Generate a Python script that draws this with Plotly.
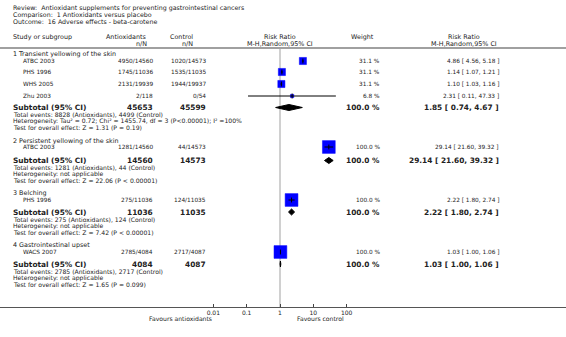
import math
import plotly.graph_objects as go

W, H = 566, 337

# ---------------- data ----------------
title_lines = [
    "Review:  Antioxidant supplements for preventing gastrointestinal cancers",
    "Comparison:  1 Antioxidants versus placebo",
    "Outcome:  16 Adverse effects - beta-carotene",
]
group_titles = [
    "1 Transient yellowing of the skin",
    "2 Persistent yellowing of the skin",
    "3 Belching",
    "4 Gastrointestinal upset",
]
study_names = ["ATBC 2003", "PHS 1996", "WHS 2005", "Zhu 2003", "ATBC 2003", "PHS 1996", "WACS 2007"]
study_group = [0, 0, 0, 0, 1, 2, 3]
events_a = [4950, 1745, 2131, 2, 1281, 275, 2785]
total_a = [14560, 11036, 19939, 118, 14560, 11036, 4084]
events_c = [1020, 1535, 1944, 0, 44, 124, 2717]
total_c = [14573, 11035, 19937, 54, 14573, 11035, 4087]
weight = [31.1, 31.1, 31.1, 6.8, 100.0, 100.0, 100.0]
rr = [4.86, 1.14, 1.10, 2.31, 29.14, 2.22, 1.03]
rr_lo = [4.56, 1.07, 1.03, 0.11, 21.60, 1.80, 1.00]
rr_hi = [5.18, 1.21, 1.16, 47.33, 39.32, 2.74, 1.06]

sub_total_a = [45653, 14560, 11036, 4084]
sub_total_c = [45599, 14573, 11035, 4087]
sub_weight = [100.0, 100.0, 100.0, 100.0]
sub_rr = [1.85, 29.14, 2.22, 1.03]
sub_lo = [0.74, 21.60, 1.80, 1.00]
sub_hi = [4.67, 39.32, 2.74, 1.06]
sub_events_a = [8828, 1281, 275, 2785]
sub_events_c = [4499, 44, 124, 2717]
heterogeneity = [
    "Tau² = 0.72; Chi² = 1455.74, df = 3 (P<0.00001); I² =100%",
    "not applicable",
    "not applicable",
    "not applicable",
]
overall_test = [
    "Z = 1.31 (P = 0.19)",
    "Z = 22.06 (P < 0.00001)",
    "Z = 7.42 (P < 0.00001)",
    "Z = 1.65 (P = 0.099)",
]
axis_ticks = [0.01, 0.1, 1, 10, 100]
axis_tick_labels = ["0.01", "0.1", "1", "10", "100"]

# ---------------- layout (pixels) ----------------
title_y = [8, 14.5, 21]
group_title_y = [54, 141, 193, 245]
study_y = [61, 72, 84, 96, 147, 200, 252]
sub_y = [107.5, 160.5, 212, 264]
AXIS_Y = 307
X_ONE = 280          # pixel x of RR = 1
DECADE = 33.35       # pixels per decade
FONT = "DejaVu Sans"
TXT = "#222222"
FS = 5.9
FSB = 7.4

def px(x):
    return x / W

ann = []

def text(x, y, s, anchor="left", size=FS, bold=False, color=TXT):
    if bold:
        s = "<b>" + s + "</b>"
    ann.append(dict(x=px(x), y=y, xref="paper", yref="y", text=s, showarrow=False,
                    xanchor=anchor, yanchor="middle", borderpad=0,
                    font=dict(family=FONT, size=size, color=color)))

for t, y in zip(title_lines, title_y):
    text(12, y, t, size=6.3)

# headers
text(12, 37, "Study or subgroup", size=6.4)
text(148, 37, "Antioxidants", anchor="right", size=6.4)
text(148, 43.5, "n/N", anchor="right", size=6.4)
text(194, 37, "Control", anchor="right", size=6.4)
text(194, 43.5, "n/N", anchor="right", size=6.4)
text(280, 37, "Risk Ratio", anchor="center", size=6.4)
text(280, 43.5, "M-H,Random,95% CI", anchor="center", size=6.4)
text(362, 37, "Weight", anchor="center", size=6.4)
text(464, 37, "Risk Ratio", anchor="center", size=6.4)
text(464, 43.5, "M-H,Random,95% CI", anchor="center", size=6.4)

for g, t in enumerate(group_titles):
    text(12, group_title_y[g], t, size=6.4)

for i, nm in enumerate(study_names):
    y = study_y[i]
    text(22, y, nm, size=5.8)
    text(154, y, f"{events_a[i]}/{total_a[i]}", anchor="right", size=5.8)
    text(207, y, f"{events_c[i]}/{total_c[i]}", anchor="right", size=5.8)
    text(381, y, f"{weight[i]:.1f} %", anchor="right", size=5.8)
    text(500, y, f"{rr[i]:.2f} [ {rr_lo[i]:.2f}, {rr_hi[i]:.2f} ]", anchor="right", size=5.8)

for g in range(4):
    y = sub_y[g]
    text(12, y, "Subtotal (95% CI)", size=FSB, bold=True)
    text(154, y, f"{sub_total_a[g]}", anchor="right", size=FSB, bold=True)
    text(207, y, f"{sub_total_c[g]}", anchor="right", size=FSB, bold=True)
    text(381, y, f"{sub_weight[g]:.1f} %", anchor="right", size=FSB, bold=True)
    text(500, y, f"{sub_rr[g]:.2f} [ {sub_lo[g]:.2f}, {sub_hi[g]:.2f} ]", anchor="right", size=FSB, bold=True)
    text(12, y + 7.4, f"Total events: {sub_events_a[g]} (Antioxidants), {sub_events_c[g]} (Control)", size=6.1)
    text(12, y + 13.9, "Heterogeneity: " + heterogeneity[g], size=6.1)
    text(12, y + 20.4, "Test for overall effect: " + overall_test[g], size=6.1)

text(213, 318.5, "Favours antioxidants", anchor="right", size=6.1)
text(296, 318.5, "Favours control", anchor="left", size=6.1)

fig = go.Figure()

# study squares
sizes = [max(3.0, 12.8 * math.sqrt(w / 100.0)) for w in weight]
fig.add_trace(go.Scatter(x=rr, y=study_y, mode="markers",
                         marker=dict(symbol="square", size=sizes, color="#0000ff", opacity=1,
                                     line=dict(width=0.5, color="#0000ff")),
                         hoverinfo="skip", showlegend=False))

# confidence interval lines
cx, cy = [], []
for lo, hi, y in zip(rr_lo, rr_hi, study_y):
    cx += [lo, hi, None]
    cy += [y, y, None]
fig.add_trace(go.Scatter(x=cx, y=cy, mode="lines", line=dict(color="black", width=1),
                         hoverinfo="skip", showlegend=False))
# point-estimate ticks
fig.add_trace(go.Scatter(x=rr, y=study_y, mode="markers",
                         marker=dict(symbol="line-ns", size=3.5, opacity=1,
                                     line=dict(width=1, color="black")),
                         hoverinfo="skip", showlegend=False))

# subtotal diamonds
for g in range(4):
    y = sub_y[g]
    fig.add_trace(go.Scatter(x=[sub_lo[g], sub_rr[g], sub_hi[g], sub_rr[g], sub_lo[g]],
                             y=[y, y - 3, y, y + 3, y], mode="lines", fill="toself",
                             fillcolor="black", line=dict(color="black", width=1),
                             hoverinfo="skip", showlegend=False))

shapes = [
    dict(type="line", xref="paper", yref="y", x0=0, x1=1, y0=48, y1=48,
         line=dict(color="#a0a0a0", width=2)),
    dict(type="line", xref="x", yref="y", x0=1, x1=1, y0=49, y1=AXIS_Y,
         line=dict(color="#d0d0d0", width=2), layer="below"),
]

fig.update_layout(
    width=W, height=H, margin=dict(l=0, r=0, t=0, b=0),
    paper_bgcolor="white", plot_bgcolor="white",
    annotations=ann, shapes=shapes, showlegend=False,
    xaxis=dict(type="log", range=[-X_ONE / DECADE, (W - X_ONE) / DECADE],
               tickvals=axis_ticks, ticktext=axis_tick_labels,
               ticks="inside", ticklen=3, tickcolor="#444", tickwidth=1,
               showline=True, linecolor="#555", linewidth=1,
               showgrid=False, zeroline=False, anchor="free",
               position=(H - AXIS_Y) / H,
               tickfont=dict(family=FONT, size=6, color=TXT), fixedrange=True),
    yaxis=dict(range=[H, 0], domain=[0, 1], visible=False, fixedrange=True),
    font=dict(family=FONT, color=TXT),
)

fig.write_html("out.html", config={"displayModeBar": False},
               post_script="document.body.style.margin='0px';document.body.style.overflow='hidden';")
